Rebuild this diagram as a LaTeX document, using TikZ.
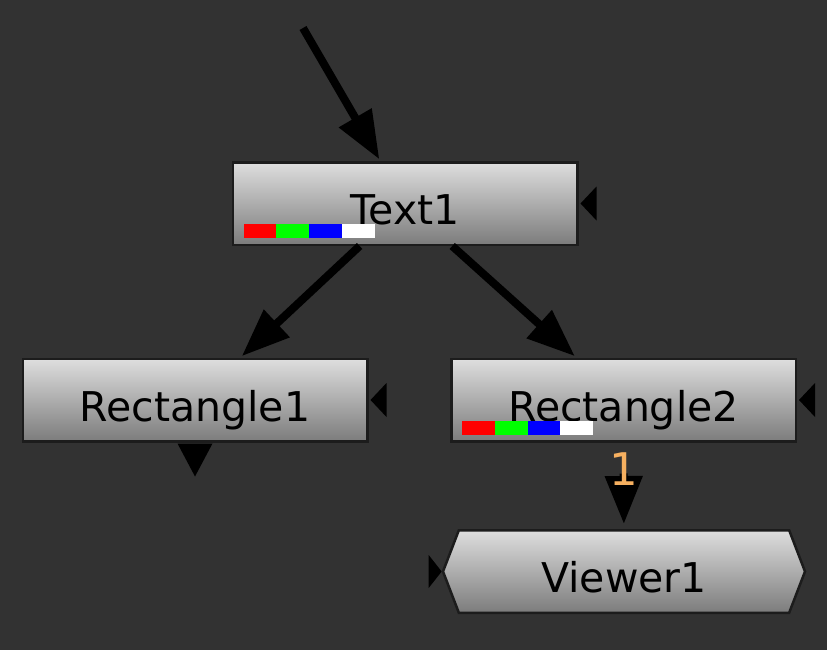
\documentclass[tikz,border=0pt]{standalone}
\usepackage{fontspec}
\setmainfont{DejaVu Sans}
\usetikzlibrary{arrows.meta,positioning,shapes.symbols}

\definecolor{canvas}{RGB}{50,50,50}
\definecolor{nodetop}{RGB}{222,222,222}
\definecolor{nodebot}{RGB}{124,124,124}
\definecolor{nodeedge}{RGB}{28,28,28}
\definecolor{labelorange}{RGB}{246,176,96}

\tikzset{
  nukenode/.style={draw=nodeedge, line width=2.5pt, top color=nodetop, bottom color=nodebot,
    minimum height=82.5pt, text height=42pt, text depth=0pt, inner sep=0pt,
    font=\fontsize{41}{48}\selectfont},
  rectnode/.style={nukenode, rectangle, minimum width=344.5pt},
  viewernode/.style={nukenode, signal, signal to=west and east, signal pointer angle=138,
    minimum width=362pt},
  wire/.style={line width=8pt, -{Triangle[length=48pt,width=36pt]}, shorten >=2pt},
  knob/.style={fill=black},
  portlabel/.style={text=labelorange, inner sep=0pt, font=\fontsize{45}{50}\selectfont}
}

\begin{document}
\begin{tikzpicture}[x=1pt,y=-1pt]

\fill[canvas] (0,0) rectangle (827,650);

\node[rectnode] (text1) at (405,203.5) {Text1};
\node[rectnode] (rect1) at (195,400) {Rectangle1};
\node[rectnode] (rect2) at (623.5,400) {Rectangle2};
\node[viewernode] (viewer1) at (624,571.5) {Viewer1};

\foreach \n in {text1,rect2}
  \foreach \c [count=\i from 0] in {red,green,blue,white}
    \fill[\c] ([xshift={12pt+\i*32.75pt},yshift=8pt]\n.south west) rectangle ++(32.75,-14);

\foreach \n in {text1,rect1,rect2}
  \fill[knob] ([xshift=2pt]\n.east) -- ++(16,-17) -- ++(0,34) -- cycle;
\fill[knob] ([yshift=-1pt]rect1.south) ++(-17.5,0) -- ++(35,0) -- ++(-17.5,33) -- cycle;
\fill[knob] (viewer1.west) ++(-13,-16.5) -- ++(0,33) -- ++(13,-16.5) -- cycle;

\coordinate (feed) at (303,28);
\draw[wire] (feed) -- (text1);
\draw[wire] (text1) -- (rect1);
\draw[wire] (text1) -- (rect2);
\draw[wire, shorten <=31pt, shorten >=5pt] (rect2) -- (viewer1);

\node[portlabel, below=10pt of rect2] (port1) {1};

\end{tikzpicture}
\end{document}
